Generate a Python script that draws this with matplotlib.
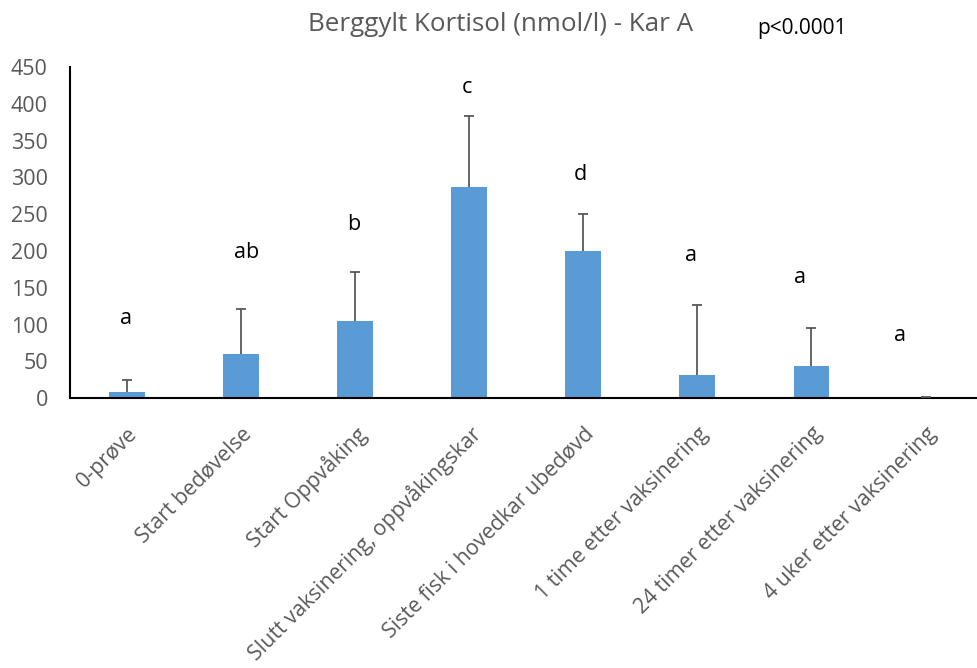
import matplotlib
matplotlib.use("Agg")
import matplotlib.pyplot as plt
import numpy as np

plt.rcParams['font.family'] = ['Open Sans', 'DejaVu Sans']

categories = ["0-prøve", "Start bedøvelse", "Start Oppvåking",
              "Slutt vaksinering, oppvåkingskar", "Siste fisk i hovedkar ubedøvd",
              "1 time etter vaksinering", "24 timer etter vaksinering",
              "4 uker etter vaksinering"]
means = [8, 60, 105, 287, 200, 31, 44, 1.5]
sd = [17, 61, 67, 96, 51, 95, 51, 0]
letters = ["a", "ab", "b", "c", "d", "a", "a", "a"]
letter_y = [108, 198, 236, 422, 304, 194, 164, 85]
# horizontal placement of the significance letters (category units)
letter_x = [-0.01, 1.05, 1.99, 2.98, 3.97, 4.94, 5.9, 6.78]

fig = plt.figure(figsize=(9.77, 6.68), dpi=100)
ax = fig.add_axes([0.0717, 0.404, 0.934, 0.4955])

x = np.arange(len(categories))
ax.bar(x, means, width=0.315, color="#5B9BD5", zorder=2)
# upper error bars only (no cap at the bar top)
_, caps, _ = ax.errorbar(x, means, yerr=[np.zeros(len(sd)), sd], fmt="none",
                         ecolor="#595959", elinewidth=1.3, capsize=3.5,
                         capthick=1.3, zorder=3)
caps[0].set_visible(False)

for lx, lab, ly in zip(letter_x, letters, letter_y):
    ax.text(lx, ly, lab, ha="center", va="center", fontsize=15.5, color="black")

ax.set_xlim(-0.5, len(categories) - 0.5)
ax.set_ylim(0, 450)
ax.set_yticks(np.arange(0, 451, 50))
ax.tick_params(axis="y", length=0, labelsize=15.5, labelcolor="#595959", pad=16)
ax.tick_params(axis="x", length=0, labelsize=15.3, labelcolor="#595959", pad=18)
ax.set_xticks(x)
ax.set_xticklabels(categories, rotation=45, ha="right", rotation_mode="anchor")

for s in ["top", "right"]:
    ax.spines[s].set_visible(False)
ax.spines["left"].set_linewidth(1.5)
ax.spines["bottom"].set_linewidth(1.5)

fig.text(0.512, 0.9626, "Berggylt Kortisol (nmol/l) - Kar A", ha="center", va="center",
         fontsize=18.7, color="#595959")
fig.text(0.8205, 0.958, "p<0.0001", ha="center", va="center", fontsize=15, color="black")

fig.savefig("out.png", dpi=100)
